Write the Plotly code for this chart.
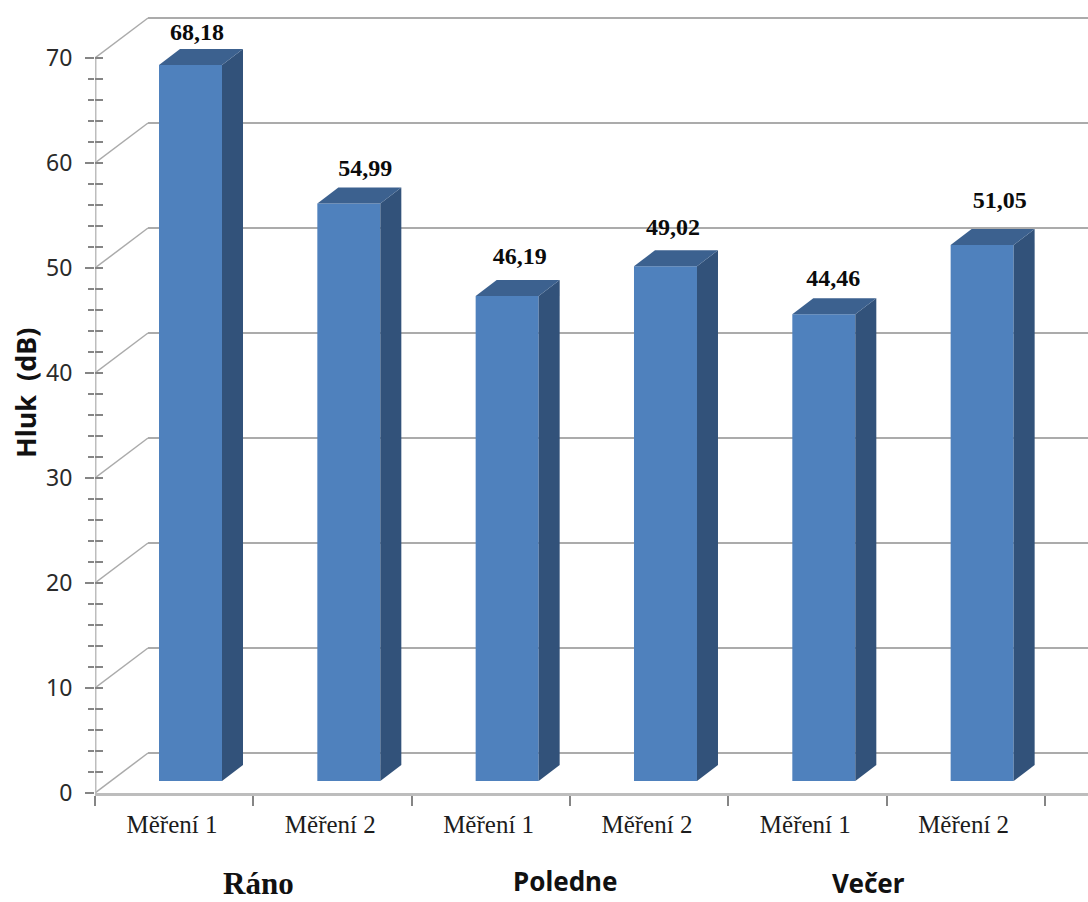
import plotly.graph_objects as go

# Noise level per measurement
groups = ["Ráno", "Poledne", "Večer"]
categories = ["Měření 1", "Měření 2", "Měření 1", "Měření 2", "Měření 1", "Měření 2"]
values = [68.18, 54.99, 46.19, 49.02, 44.46, 51.05]
value_labels = ["68,18", "54,99", "46,19", "49,02", "44,46", "51,05"]
major_ticks = [0, 10, 20, 30, 40, 50, 60, 70]
minor_ticks = [v for v in range(0, 71, 2) if v % 10]

# Hand placement of the value labels relative to each column (pixels)
label_shift_x = [6.5, 16.5, 12.5, 7.5, 9.5, 17.5]
label_lift = [31, 34, 38, 37, 34, 43]

W, H = 1088, 902
LEFT, BASE = 95, 793          # page position of the axes origin
CAT_PX = 158.33               # width of one category on the page
UNIT_PX = 10.5                # height of one dB on the page
Y_TOP = BASE / UNIT_PX
X_TOP = (W - LEFT) / CAT_PX

WALL_DX, WALL_DY = 53 / CAT_PX, 40 / UNIT_PX      # depth of the back wall
BAR_DX, BAR_DY = 21 / CAT_PX, 16 / UNIT_PX        # depth of each column
BAR_X0, BAR_W = 64 / CAT_PX, 63 / CAT_PX          # column inset and width
BAR_BASE = 12 / UNIT_PX                           # column floor above the axis

GRID = "#ababab"
SPINE = "#bdbdbd"
TICK = "#858585"
FRONT, SIDE, TOP = "#4f81bd", "#32527a", "#3c618f"


def page_x(px):
    return (px - LEFT) / (W - LEFT)


def page_y(px):
    return (BASE - px) / BASE


fig = go.Figure()

# Front faces of the columns
fig.add_trace(go.Bar(
    x=[i + BAR_X0 + BAR_W / 2 for i in range(len(values))],
    y=values,
    base=BAR_BASE,
    width=BAR_W,
    marker=dict(color=FRONT, line=dict(width=0)),
    hoverinfo="skip",
))

# Side and top faces give the columns their depth
for i, v in enumerate(values):
    x0 = i + BAR_X0
    x1 = x0 + BAR_W
    y0 = BAR_BASE
    y1 = BAR_BASE + v
    fig.add_trace(go.Scatter(
        x=[x1, x1 + BAR_DX, x1 + BAR_DX, x1, x1],
        y=[y0, y0 + BAR_DY, y1 + BAR_DY, y1, y0],
        mode="lines", fill="toself", fillcolor=SIDE,
        line=dict(width=0, color=SIDE), hoverinfo="skip", yaxis="y2",
    ))
    fig.add_trace(go.Scatter(
        x=[x0, x1, x1 + BAR_DX, x0 + BAR_DX, x0],
        y=[y1, y1, y1 + BAR_DY, y1 + BAR_DY, y1],
        mode="lines", fill="toself", fillcolor=TOP,
        line=dict(width=0, color=TOP), hoverinfo="skip", yaxis="y2",
    ))

# Value labels above the columns
fig.add_trace(go.Scatter(
    x=[i + BAR_X0 + BAR_W / 2 + label_shift_x[i] / CAT_PX for i in range(len(values))],
    y=[BAR_BASE + v + label_lift[i] / UNIT_PX for i, v in enumerate(values)],
    mode="text",
    text=[f"<b>{t}</b>" for t in value_labels],
    textposition="middle center",
    textfont=dict(family="Liberation Serif", size=24, color="#0b0b0b"),
    cliponaxis=False, hoverinfo="skip", yaxis="y2",
))

# Value axis spine
fig.add_trace(go.Scatter(
    x=[0, 0], y=[0, 70], mode="lines",
    line=dict(color=SPINE, width=3),
    cliponaxis=False, hoverinfo="skip",
))

# Back wall gridlines and the diagonals joining them to the value axis
shapes = []
for t in major_ticks:
    shapes.append(dict(type="line", layer="below", xref="x", yref="y",
                       x0=0, y0=t, x1=WALL_DX, y1=t + WALL_DY,
                       line=dict(color=GRID, width=1.5)))
    shapes.append(dict(type="line", layer="below", xref="x", yref="y",
                       x0=WALL_DX, y0=t + WALL_DY, x1=X_TOP, y1=t + WALL_DY,
                       line=dict(color=GRID, width=2)))


def caption(text, px, py, family, size, angle=0):
    return dict(text=f"<b>{text}</b>", x=page_x(px), y=page_y(py),
                xref="paper", yref="paper", xanchor="center", yanchor="middle",
                textangle=angle, showarrow=False,
                font=dict(family=family, size=size, color="#111111"))


annotations = [
    caption("Hluk  (dB)", 25, 393, "Noto Sans", 27, -90),
    caption(groups[0], 258, 883, "Liberation Serif", 31),
    caption(groups[1], 565, 881, "Noto Sans", 26),
    caption(groups[2], 868, 883, "Noto Sans", 26),
]

fig.update_layout(
    width=W, height=H,
    margin=dict(l=LEFT, r=0, t=0, b=H - BASE),
    paper_bgcolor="white", plot_bgcolor="white",
    showlegend=False,
    shapes=shapes,
    annotations=annotations,
    xaxis=dict(
        range=[0, X_TOP],
        tickmode="array",
        tickvals=[i + 0.486 for i in range(len(categories))],
        ticktext=categories,
        ticks="",
        ticklabelstandoff=7,
        tickfont=dict(family="Liberation Serif", size=25, color="#1c1c1c"),
        showgrid=False, zeroline=False,
        showline=True, linecolor=SPINE, linewidth=3,
        minor=dict(tickmode="array", tickvals=list(range(7)),
                   ticks="outside", ticklen=10, tickcolor=TICK, tickwidth=1.5),
    ),
    yaxis=dict(
        range=[0, Y_TOP],
        tickmode="array",
        tickvals=major_ticks,
        ticks="outside", ticklen=9, tickcolor=TICK, tickwidth=1.5,
        ticklabelstandoff=8,
        tickfont=dict(family="Noto Sans", size=23, color="#2a2a2a"),
        showgrid=False, zeroline=False, showline=False,
        minor=dict(tickmode="array", tickvals=minor_ticks, ticks="outside", ticklen=6,
                   tickcolor=TICK, tickwidth=1.5),
    ),
    yaxis2=dict(
        range=[0, Y_TOP], overlaying="y", side="left",
        tickmode="array", tickvals=major_ticks, ticktext=[""] * len(major_ticks),
        ticks="inside", ticklen=8, tickcolor=TICK, tickwidth=1.5,
        showgrid=False, zeroline=False, showline=False,
        minor=dict(tickmode="array", tickvals=minor_ticks, ticks="inside", ticklen=8,
                   tickcolor=TICK, tickwidth=1.5),
    ),
)

fig.write_html("out.html")
